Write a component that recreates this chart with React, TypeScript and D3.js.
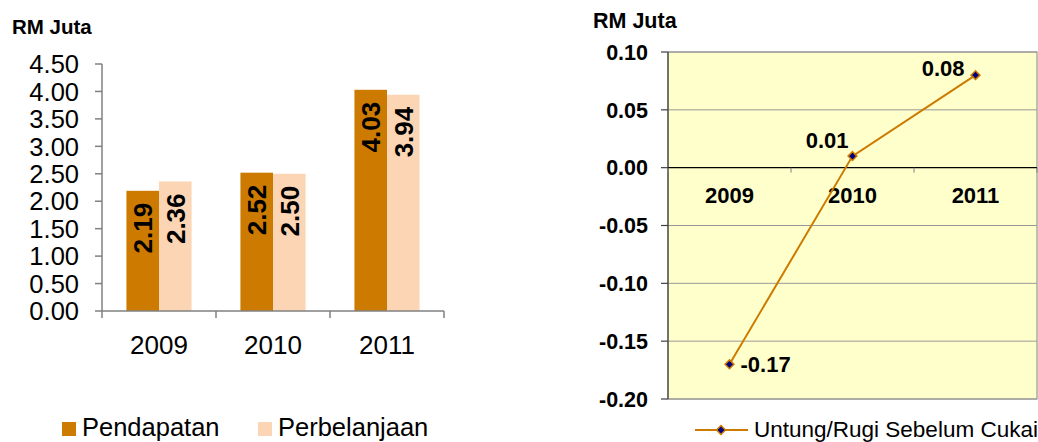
import React, { useRef, useEffect } from "react";
import * as d3 from "d3";

const years = ["2009", "2010", "2011"];
const pendapatan = [2.19, 2.52, 4.03];
const perbelanjaan = [2.36, 2.5, 3.94];
const barTicks = [0, 0.5, 1, 1.5, 2, 2.5, 3, 3.5, 4, 4.5];
const untungRugi = [-0.17, 0.01, 0.08];
const lineTicks = [-0.2, -0.15, -0.1, -0.05, 0, 0.05, 0.1];

const FONT = "'Liberation Sans', Arial, sans-serif";
const ORANGE = "#CC7A00";
const PEACH = "#FCD5B5";

// where each point label sits relative to its marker (dx, dy, anchor)
const labelPlace: [number, number, string][] = [
  [11, 8, "start"],
  [-4, -8, "end"],
  [-11, 1, "end"],
];

const App = () => {
  const ref = useRef<SVGSVGElement>(null);

  useEffect(() => {
    const svg = d3.select(ref.current);
    svg.selectAll("*").remove();

    // ---------- left: bar chart ----------
    const left = svg.append("g");
    const x = d3.scaleBand().domain(years).range([102, 444]);
    const xSub = d3
      .scaleBand()
      .domain(["Pendapatan", "Perbelanjaan"])
      .range([0, x.bandwidth()])
      .paddingOuter(0.75);
    const y = d3.scaleLinear().domain([0, 4.5]).range([311, 64]);

    left
      .append("text")
      .attr("x", 12)
      .attr("y", 34)
      .style("font", `bold 20.5px ${FONT}`)
      .text("RM Juta");

    // y axis
    left
      .append("line")
      .attr("x1", 102)
      .attr("x2", 102)
      .attr("y1", y(4.5))
      .attr("y2", y(0))
      .attr("stroke", "#808080")
      .attr("stroke-width", 1.5);
    left
      .selectAll(".ytick")
      .data(barTicks)
      .enter()
      .append("line")
      .attr("x1", 95)
      .attr("x2", 102)
      .attr("y1", (d) => y(d))
      .attr("y2", (d) => y(d))
      .attr("stroke", "#808080")
      .attr("stroke-width", 1.5);
    left
      .selectAll(".ylab")
      .data(barTicks)
      .enter()
      .append("text")
      .attr("x", 79)
      .attr("y", (d) => y(d))
      .attr("dy", "0.36em")
      .attr("text-anchor", "end")
      .style("font", `25.5px ${FONT}`)
      .text((d) => d.toFixed(2));

    // bars
    const rows = years.map((yr, i) => ({
      year: yr,
      vals: [
        { key: "Pendapatan", v: pendapatan[i], c: ORANGE },
        { key: "Perbelanjaan", v: perbelanjaan[i], c: PEACH },
      ],
    }));
    const grp = left
      .selectAll(".cat")
      .data(rows)
      .enter()
      .append("g")
      .attr("transform", (d) => `translate(${x(d.year)},0)`);
    grp
      .selectAll("rect")
      .data((d) => d.vals)
      .enter()
      .append("rect")
      .attr("x", (d) => xSub(d.key)!)
      .attr("width", xSub.bandwidth())
      .attr("y", (d) => y(d.v))
      .attr("height", (d) => y(0) - y(d.v))
      .attr("fill", (d) => d.c);
    grp
      .selectAll("text")
      .data((d) => d.vals)
      .enter()
      .append("text")
      .attr(
        "transform",
        (d) =>
          `translate(${xSub(d.key)! + xSub.bandwidth() / 2},${y(d.v) + 12}) rotate(-90)`
      )
      .attr("text-anchor", "end")
      .attr("dy", "0.36em")
      .style("font", `bold 26px ${FONT}`)
      .text((d) => d.v.toFixed(2));

    // x axis
    left
      .append("line")
      .attr("x1", 102)
      .attr("x2", 444)
      .attr("y1", y(0))
      .attr("y2", y(0))
      .attr("stroke", "#808080")
      .attr("stroke-width", 1.5);
    left
      .selectAll(".xtick")
      .data([...years.map((d) => x(d)!), 444])
      .enter()
      .append("line")
      .attr("x1", (d) => d)
      .attr("x2", (d) => d)
      .attr("y1", y(0))
      .attr("y2", y(0) + 7)
      .attr("stroke", "#808080")
      .attr("stroke-width", 1.5);
    left
      .selectAll(".xlab")
      .data(years)
      .enter()
      .append("text")
      .attr("x", (d) => x(d)! + x.bandwidth() / 2)
      .attr("y", 354)
      .attr("text-anchor", "middle")
      .style("font", `26px ${FONT}`)
      .text((d) => d);

    // legend
    const leg = [
      { key: "Pendapatan", c: ORANGE, x: 62 },
      { key: "Perbelanjaan", c: PEACH, x: 258 },
    ];
    const lg = left
      .selectAll(".leg")
      .data(leg)
      .enter()
      .append("g")
      .attr("transform", (d) => `translate(${d.x},422)`);
    lg.append("rect").attr("width", 14).attr("height", 14).attr("fill", (d) => d.c);
    lg.append("text")
      .attr("x", 20)
      .attr("y", 14)
      .style("font", `25.5px ${FONT}`)
      .text((d) => d.key);

    // ---------- right: line chart ----------
    const right = svg.append("g");
    const xl = d3.scaleBand().domain(years).range([668, 1037]);
    const yl = d3.scaleLinear().domain([-0.2, 0.1]).range([399, 52]);

    right
      .append("text")
      .attr("x", 593)
      .attr("y", 27.5)
      .style("font", `bold 21.5px ${FONT}`)
      .text("RM Juta");

    right
      .append("rect")
      .attr("x", 668)
      .attr("y", yl(0.1))
      .attr("width", 1037 - 668)
      .attr("height", yl(-0.2) - yl(0.1))
      .attr("fill", "#FFFFCC")
      .attr("stroke", "#808080")
      .attr("stroke-width", 1);
    right
      .selectAll(".grid")
      .data(lineTicks.filter((d) => d !== 0))
      .enter()
      .append("line")
      .attr("x1", 668)
      .attr("x2", 1037)
      .attr("y1", (d) => yl(d))
      .attr("y2", (d) => yl(d))
      .attr("stroke", "#999999")
      .attr("stroke-width", 1);
    right
      .append("line")
      .attr("x1", 668)
      .attr("x2", 668)
      .attr("y1", yl(0.1))
      .attr("y2", yl(-0.2))
      .attr("stroke", "#404040")
      .attr("stroke-width", 1.2);
    right
      .selectAll(".ytick")
      .data(lineTicks)
      .enter()
      .append("line")
      .attr("x1", 661)
      .attr("x2", 668)
      .attr("y1", (d) => yl(d))
      .attr("y2", (d) => yl(d))
      .attr("stroke", "#404040")
      .attr("stroke-width", 1.2);
    right
      .selectAll(".ylab")
      .data(lineTicks)
      .enter()
      .append("text")
      .attr("x", 648)
      .attr("y", (d) => yl(d))
      .attr("dy", "0.36em")
      .attr("text-anchor", "end")
      .style("font", `bold 21.5px ${FONT}`)
      .text((d) => d3.format(".2f")(d).replace("−", "-"));

    // zero axis
    right
      .append("line")
      .attr("x1", 668)
      .attr("x2", 1037)
      .attr("y1", yl(0))
      .attr("y2", yl(0))
      .attr("stroke", "#000")
      .attr("stroke-width", 1.2);
    right
      .selectAll(".xtick")
      .data([...years.map((d) => xl(d)!), 1037])
      .enter()
      .append("line")
      .attr("x1", (d) => d)
      .attr("x2", (d) => d)
      .attr("y1", yl(0))
      .attr("y2", yl(0) + 5)
      .attr("stroke", "#808080");
    right
      .selectAll(".xlab")
      .data(years)
      .enter()
      .append("text")
      .attr("x", (d) => xl(d)! + xl.bandwidth() / 2)
      .attr("y", 203)
      .attr("text-anchor", "middle")
      .style("font", `bold 22px ${FONT}`)
      .text((d) => d);

    const pts = years.map((yr, i) => ({ year: yr, v: untungRugi[i], i }));
    const px = (d: { year: string }) => xl(d.year)! + xl.bandwidth() / 2;
    const line = d3
      .line<{ year: string; v: number }>()
      .x(px)
      .y((d) => yl(d.v));
    right
      .append("path")
      .datum(pts)
      .attr("d", line)
      .attr("fill", "none")
      .attr("stroke", ORANGE)
      .attr("stroke-width", 2);
    const diamond = d3.symbol().type(d3.symbolDiamond2).size(50);
    right
      .selectAll(".pt")
      .data(pts)
      .enter()
      .append("path")
      .attr("d", diamond)
      .attr("transform", (d) => `translate(${px(d)},${yl(d.v)})`)
      .attr("fill", "#000080")
      .attr("stroke", ORANGE)
      .attr("stroke-width", 1.5);

    right
      .selectAll(".plab")
      .data(pts)
      .enter()
      .append("text")
      .attr("x", (d) => px(d) + labelPlace[d.i][0])
      .attr("y", (d) => yl(d.v) + labelPlace[d.i][1])
      .attr("text-anchor", (d) => labelPlace[d.i][2])
      .style("font", `bold 22px ${FONT}`)
      .text((d) => d3.format(".2f")(d.v).replace("−", "-"));

    // legend
    const rl = right.append("g").attr("transform", "translate(695,430)");
    rl.append("line")
      .attr("x1", 0)
      .attr("x2", 53)
      .attr("stroke", ORANGE)
      .attr("stroke-width", 2);
    rl.append("path")
      .attr("d", diamond)
      .attr("transform", "translate(26,0)")
      .attr("fill", "#000080")
      .attr("stroke", ORANGE)
      .attr("stroke-width", 1.5);
    rl.append("text")
      .attr("x", 59)
      .attr("y", 7)
      .style("font", `22.5px ${FONT}`)
      .text("Untung/Rugi Sebelum Cukai");
  }, []);

  return (
    <div style={{ position: "absolute", left: 0, top: 0 }}>
      <svg ref={ref} width={1038} height={442} style={{ display: "block" }}></svg>
    </div>
  );
};

export default App;
